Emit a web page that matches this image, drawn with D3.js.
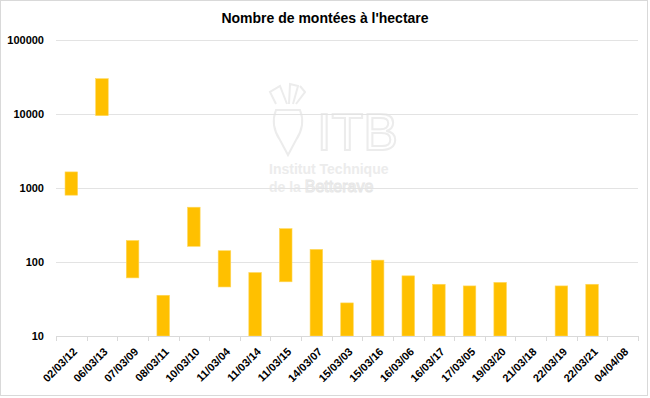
<!DOCTYPE html>
<html lang="fr">
<head>
<meta charset="UTF-8">
<title>Nombre de montées à l'hectare</title>
<script src="https://cdnjs.cloudflare.com/ajax/libs/d3/7.8.5/d3.min.js"></script>
<style>
    body { margin: 0; background: #fff; }
    text { font-family: "Liberation Sans", Arial, sans-serif; }
</style>
</head>
<body>
<div id="chart"></div>
<script>
    // dates de semis / relevés
    var categories = ["02/03/12", "06/03/13", "07/03/09", "08/03/11", "10/03/10", "11/03/04",
        "11/03/14", "11/03/15", "14/03/07", "15/03/03", "15/03/16", "16/03/06", "16/03/17",
        "17/03/05", "19/03/20", "21/03/18", "22/03/19", "22/03/21", "04/04/08"];
    // mini / maxi (0 = pas de mini, la barre part du bas)
    var lows  = [800, 9500, 61, 0, 163, 46, 0, 54, 0, 0, 0, 0, 0, 0, 0, null, 0, 0, null];
    var highs = [1650, 30000, 195, 35.5, 550, 142, 72, 282, 148, 28, 106, 65, 50, 47.5, 53, null, 47.5, 50, null];
    var yTicks = [10, 100, 1000, 10000, 100000];

    var W = 650, H = 398;
    var margin = {top: 40, right: 12, bottom: 62, left: 56},
        width = 638 - margin.left,
        height = 336 - margin.top;

    var svg = d3.select("#chart").append("svg")
        .attr("width", W)
        .attr("height", H);

    svg.append("rect")
        .attr("x", 0.5).attr("y", 0.5)
        .attr("width", W - 3).attr("height", H - 3)
        .attr("fill", "#fff")
        .attr("stroke", "#d9d9d9");

    svg.append("text")
        .attr("x", 325)
        .attr("y", 23)
        .attr("text-anchor", "middle")
        .style("font-size", "14px")
        .style("font-weight", "bold")
        .attr("fill", "#000")
        .text("Nombre de montées à l'hectare");

    // filigrane ITB
    var wm = svg.append("g").attr("fill", "none").attr("stroke", "#ececec").attr("stroke-width", 2);
    wm.append("path")
        .attr("d", "M276,110 Q270,125 280,140 L288,155 L296,140 Q306,125 300,110 Z");
    wm.append("path")
        .attr("d", "M276,104 L270,92 L280,86 L287,104 M289,104 L290,84 L298,86 L293,104 M296,104 L305,92 L300,86");
    wm.append("text")
        .attr("x", 317).attr("y", 150)
        .style("font-size", "52px")
        .text("ITB");
    var sub = svg.append("text")
        .attr("x", 269).attr("y", 174)
        .attr("fill", "#ececec")
        .style("font-size", "14px").style("font-weight", "bold");
    sub.append("tspan").text("Institut Technique");
    sub.append("tspan").attr("x", 269).attr("dy", 18).text("de la ");
    sub.append("tspan")
        .attr("fill", "none").attr("stroke", "#e6e6e6").attr("stroke-width", 1)
        .style("font-weight", "normal").style("font-size", "16px")
        .text("Betterave");

    var g = svg.append("g")
        .attr("transform", "translate(" + margin.left + "," + margin.top + ")");

    var x = d3.scaleBand()
        .domain(categories)
        .range([0, width])
        .paddingInner(0.59)
        .paddingOuter(0.295);

    var y = d3.scaleLog()
        .domain([10, 100000])
        .range([height, 0])
        .clamp(true);

    // grille
    g.append("g")
        .selectAll("line")
        .data(yTicks.slice(1))
        .enter().append("line")
        .attr("x1", 0).attr("x2", width)
        .attr("y1", function (d) { return Math.round(y(d)) + 0.5; })
        .attr("y2", function (d) { return Math.round(y(d)) + 0.5; })
        .attr("stroke", "#e3e3e3");

    var yAxis = d3.axisLeft(y)
        .tickValues(yTicks)
        .tickFormat(d3.format("d"))
        .tickSize(0)
        .tickPadding(12);

    var yG = g.append("g").call(yAxis);
    yG.select(".domain").remove();
    yG.selectAll("text")
        .style("font-size", "11px")
        .style("font-weight", "bold")
        .attr("fill", "#000");

    // barres flottantes
    var data = categories.map(function (c, i) { return {cat: c, lo: lows[i], hi: highs[i]}; })
        .filter(function (d) { return d.hi != null; });

    g.append("g")
        .selectAll("rect")
        .data(data)
        .enter().append("rect")
        .attr("x", function (d) { return x(d.cat); })
        .attr("width", x.bandwidth())
        .attr("y", function (d) { return y(d.hi); })
        .attr("height", function (d) { return y(d.lo) - y(d.hi); })
        .attr("fill", "#ffc000")
        .attr("stroke", "#ffd75a")
        .attr("stroke-width", 0.6);

    // axe x
    var xg = g.append("g").attr("transform", "translate(0," + height + ")");
    xg.append("line")
        .attr("x1", 0).attr("x2", width)
        .attr("y1", 0.5).attr("y2", 0.5)
        .attr("stroke", "#d9d9d9");
    xg.selectAll("line.tick")
        .data(d3.range(categories.length + 1))
        .enter().append("line")
        .attr("class", "tick")
        .attr("x1", function (i) { return Math.round(i * width / categories.length) + 0.5; })
        .attr("x2", function (i) { return Math.round(i * width / categories.length) + 0.5; })
        .attr("y1", 0).attr("y2", 5)
        .attr("stroke", "#d9d9d9");

    xg.selectAll("text")
        .data(categories)
        .enter().append("text")
        .attr("transform", function (d) {
            return "translate(" + (x(d) + x.bandwidth() / 2 + 1) + ",11) rotate(-45)";
        })
        .attr("text-anchor", "end")
        .attr("dy", "0.7em")
        .style("font-size", "11px")
        .style("font-weight", "bold")
        .attr("fill", "#000")
        .text(function (d) { return d; });
</script>
</body>
</html>
